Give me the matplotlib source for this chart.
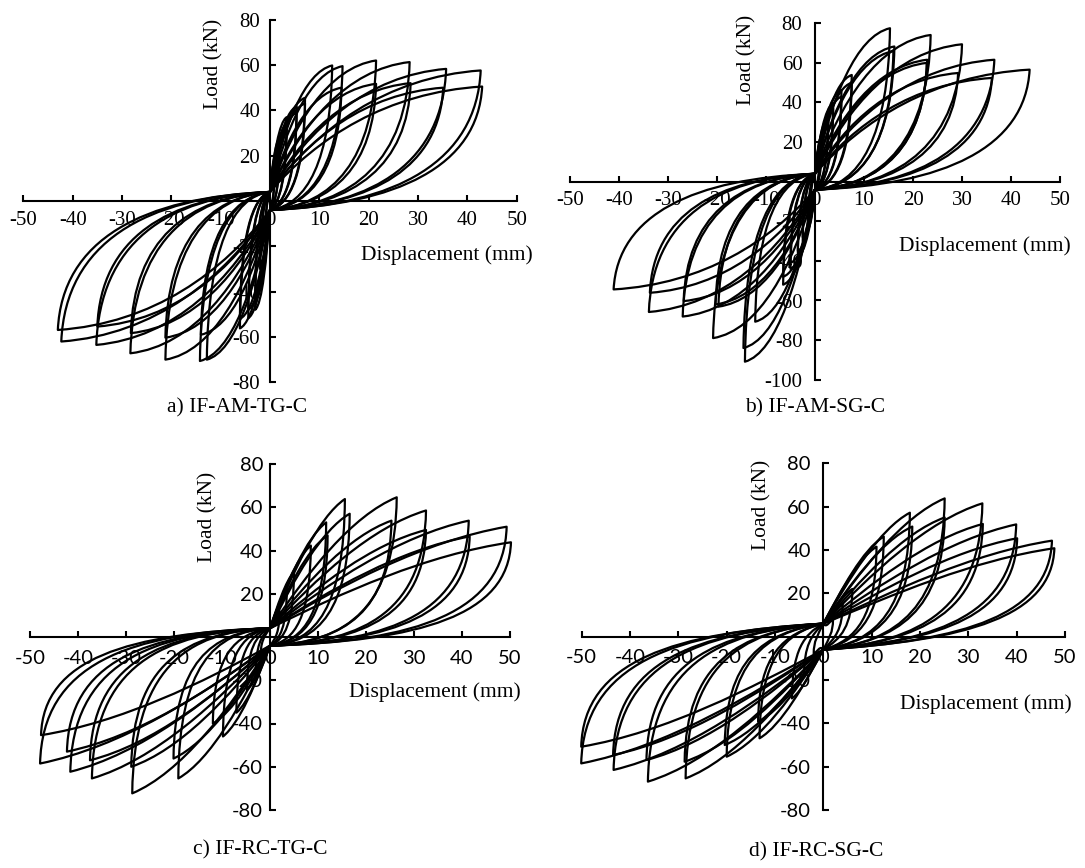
import numpy as np
import matplotlib
matplotlib.use("Agg")
import matplotlib.pyplot as plt
from matplotlib.path import Path
from matplotlib.patches import PathPatch

W, H = 1085, 868

# ---------------- data (peak points of each loading cycle) ----------------
# a) IF-AM-TG-C
a_pos_disp = [1.0, 1.0, 2.0, 2.0, 3.4, 3.4, 5.4, 5.4, 7.1, 7.1, 12.6, 14.7, 14.5, 21.5, 21.5, 28.3, 28.5, 35.7, 35.1, 42.7, 43.0]
a_pos_load = [18, 16, 28, 26, 37, 34, 41.7, 39, 45.5, 43, 59.8, 59.5, 50, 62, 51.7, 61.3, 52, 58.3, 50, 57.6, 50.5]
a_neg_disp = [-1.0, -1.0, -2.0, -2.0, -3.0, -3.0, -4.4, -4.4, -6.1, -6.1, -12.8, -14.2, -14.0, -21.2, -21.2, -28.3, -28.2, -35.2, -35.0, -42.3, -43.0]
a_neg_load = [-18, -16, -30, -28, -48, -44, -51.7, -48, -56.2, -52, -70, -70.6, -59, -70, -60.3, -67.2, -58.3, -63.5, -55.4, -62, -56.9]

# b) IF-AM-SG-C
b_pos_disp = [1.0, 1.5, 2.7, 2.7, 3.7, 3.7, 5.4, 5.4, 7.5, 7.5, 15.3, 16.2, 16.0, 23.6, 22.9, 22.8, 30.0, 29.2, 36.6, 36.1, 43.8]
b_pos_load = [18, 24, 32.8, 30, 39.6, 37, 46.3, 43, 53.9, 50, 77.5, 68.3, 66, 74.1, 61.6, 60, 69.4, 54.9, 61.6, 52.4, 56.6]
b_neg_disp = [-1.0, -1.5, -2.5, -2.5, -3.5, -3.5, -5.0, -5.0, -6.5, -6.5, -14.3, -14.6, -12.2, -20.8, -19.7, -20.3, -27.0, -26.8, -33.9, -33.7, -41.1]
b_neg_load = [-18, -24, -30, -28, -38, -35, -44, -41, -52, -48, -90.9, -84, -70.7, -79, -63.1, -62, -68.1, -60.3, -65.8, -56.1, -54.4]

# c) IF-RC-TG-C
c_pos_disp = [2.0, 3.5, 5.0, 8.5, 11.7, 12.0, 15.6, 16.6, 26.4, 25.3, 32.5, 32.5, 41.4, 41.6, 49.3, 50.2]
c_pos_load = [12, 22, 30, 42.3, 53, 47, 63.8, 57, 64.6, 53.8, 58.5, 49.5, 53.8, 46.5, 51, 43.8]
c_neg_disp = [-2.0, -3.0, -4.8, -7.0, -9.8, -11.9, -19.1, -20.1, -28.7, -28.9, -37.1, -37.5, -41.6, -42.3, -47.9, -47.7]
c_neg_load = [-10, -18, -24.6, -35, -46, -40, -65.4, -56.2, -72.3, -60, -65.4, -57, -62.3, -53, -58.5, -45.4]

# d) IF-RC-SG-C
d_pos_disp = [2.0, 4.0, 6.0, 11.0, 12.5, 17.9, 18.4, 25.1, 25.1, 32.9, 33.0, 39.9, 40.1, 47.3, 47.8]
d_pos_load = [8, 15, 22, 41.5, 46.2, 57.2, 50.8, 63.8, 55, 61.5, 52, 51.8, 45.4, 44.3, 40.8]
d_neg_disp = [-2.0, -4.0, -6.5, -13.5, -13.2, -20.0, -20.4, -28.5, -28.7, -36.3, -36.6, -43.4, -43.5, -50.1, -50.1]
d_neg_load = [-8, -18, -28.5, -39.2, -46.9, -55.4, -50, -65.4, -57.7, -66.9, -56.9, -61.5, -54.6, -58.5, -50.8]

titles = ["a) IF-AM-TG-C", "b) IF-AM-SG-C", "c) IF-RC-TG-C", "d) IF-RC-SG-C"]
x_ticks = [-50, -40, -30, -20, -10, 0, 10, 20, 30, 40, 50]
y_ticks_80 = [-80, -60, -40, -20, 20, 40, 60, 80]
y_ticks_100 = [-100, -80, -60, -40, -20, 20, 40, 60, 80]

SERIF = ["Liberation Serif", "DejaVu Serif"]
SANS = ["Lato", "DejaVu Sans"]

# ---------------- layout (pixel boxes of the data area) ----------------
SHAPE_AB = (0.22, 0.55, 0.55, 0.95, 0.98, 0.3, 0.6, -0.03)
SHAPE_CD = (0.3, 0.47, 0.65, 0.87, 0.99, 0.22, 0.62, -0.04)
panels = [
    dict(data=(a_pos_disp, a_pos_load, a_neg_disp, a_neg_load), box=(23.3, 516.7, 19.7, 382.3),
         ylim=(-80, 80), yt=y_ticks_80, tickfont=SERIF, tsize=15, c=4.0, shape=SHAPE_AB,
         ylab=(214, 64), xlab=(447, 255), title=(237, 408), ypad=7, xpad=7),
    dict(data=(b_pos_disp, b_pos_load, b_neg_disp, b_neg_load), box=(570, 1060, 23.3, 379.7),
         ylim=(-100, 80), yt=y_ticks_100, tickfont=SERIF, tsize=15, c=4.0, shape=SHAPE_AB,
         ylab=(747, 60), xlab=(985, 246), title=(815, 408), ypad=9, xpad=7),
    dict(data=(c_pos_disp, c_pos_load, c_neg_disp, c_neg_load), box=(30, 510, 464, 810),
         ylim=(-80, 80), yt=y_ticks_80, tickfont=SANS, tsize=14.5, c=4.0, shape=SHAPE_CD,
         ylab=(208, 517), xlab=(435, 692), title=(260, 850), ypad=5, xpad=9),
    dict(data=(d_pos_disp, d_pos_load, d_neg_disp, d_neg_load), box=(581.7, 1065, 463.3, 810),
         ylim=(-80, 80), yt=y_ticks_80, tickfont=SANS, tsize=14.5, c=6.0, shape=SHAPE_CD,
         ylab=(762, 505), xlab=(986, 704), title=(816, 852), ypad=9, xpad=9),
]


def cycle_path(dp, lp, dn, ln, c, k):
    u1x, u1y, u2x, u2y, l1x, l1y, l2x, l2y = k
    an, bn = abs(dn), abs(ln)
    verts = [(0, c),
             (u1x * dp, u1y * lp), (u2x * dp, u2y * lp), (dp, lp),
             (l1x * dp, l1y * lp), (l2x * dp, l2y * lp), (0, -c),
             (-u1x * an, -u1y * bn), (-u2x * an, -u2y * bn), (dn, ln),
             (-l1x * an, -l1y * bn), (-l2x * an, -l2y * bn), (0, c)]
    codes = [Path.MOVETO] + [Path.CURVE4] * 12
    return Path(verts, codes)


fig = plt.figure(figsize=(W / 100, H / 100), dpi=100)

for i, p in enumerate(panels):
    x0, x1, yt_, yb_ = p["box"]
    ax = fig.add_axes([x0 / W, 1 - yb_ / H, (x1 - x0) / W, (yb_ - yt_) / H])
    ax.set_xlim(-50, 50)
    ax.set_ylim(*p["ylim"])
    ax.patch.set_alpha(0)
    for s in ("top", "right"):
        ax.spines[s].set_visible(False)
    ax.spines["left"].set_position(("data", 0))
    ax.spines["bottom"].set_position(("data", 0))
    for s in ("left", "bottom"):
        ax.spines[s].set_linewidth(1.5)
        ax.spines[s].set_zorder(2)
    ax.set_xticks(x_ticks)
    ax.set_yticks(p["yt"])
    ax.set_xticklabels([str(v) for v in x_ticks])
    ax.set_yticklabels([str(v) for v in p["yt"]])
    ax.tick_params(axis="x", direction="in", length=4.5, width=1.5, pad=p["xpad"], labelsize=p["tsize"])
    ax.tick_params(axis="y", direction="in", length=4.5, width=1.5, pad=p["ypad"], labelsize=p["tsize"])
    for lab in ax.get_xticklabels() + ax.get_yticklabels():
        lab.set_family(p["tickfont"])
    ax.xaxis.set_zorder(1)
    ax.yaxis.set_zorder(1)

    dps, lps, dns, lns = p["data"]
    for dp, lp, dn, ln in zip(dps, lps, dns, lns):
        path = cycle_path(dp, lp, dn, ln, p["c"], p["shape"])
        ax.add_patch(PathPatch(path, fill=False, edgecolor="black", lw=1.6, zorder=3,
                               clip_on=False, joinstyle="round"))

    lx, ly = p["ylab"]
    fig.text(lx / W, 1 - ly / H, "Load (kN)", rotation=90, ha="center", va="center",
             family=SERIF, fontsize=15.5)
    dx, dy = p["xlab"]
    fig.text(dx / W, 1 - dy / H, "Displacement (mm)", ha="center", va="center",
             family=SERIF, fontsize=15.5)
    tx, ty = p["title"]
    fig.text(tx / W, 1 - ty / H, titles[i], ha="center", va="center",
             family=SERIF, fontsize=15.5)

fig.savefig("out.png", dpi=100, facecolor="white")
